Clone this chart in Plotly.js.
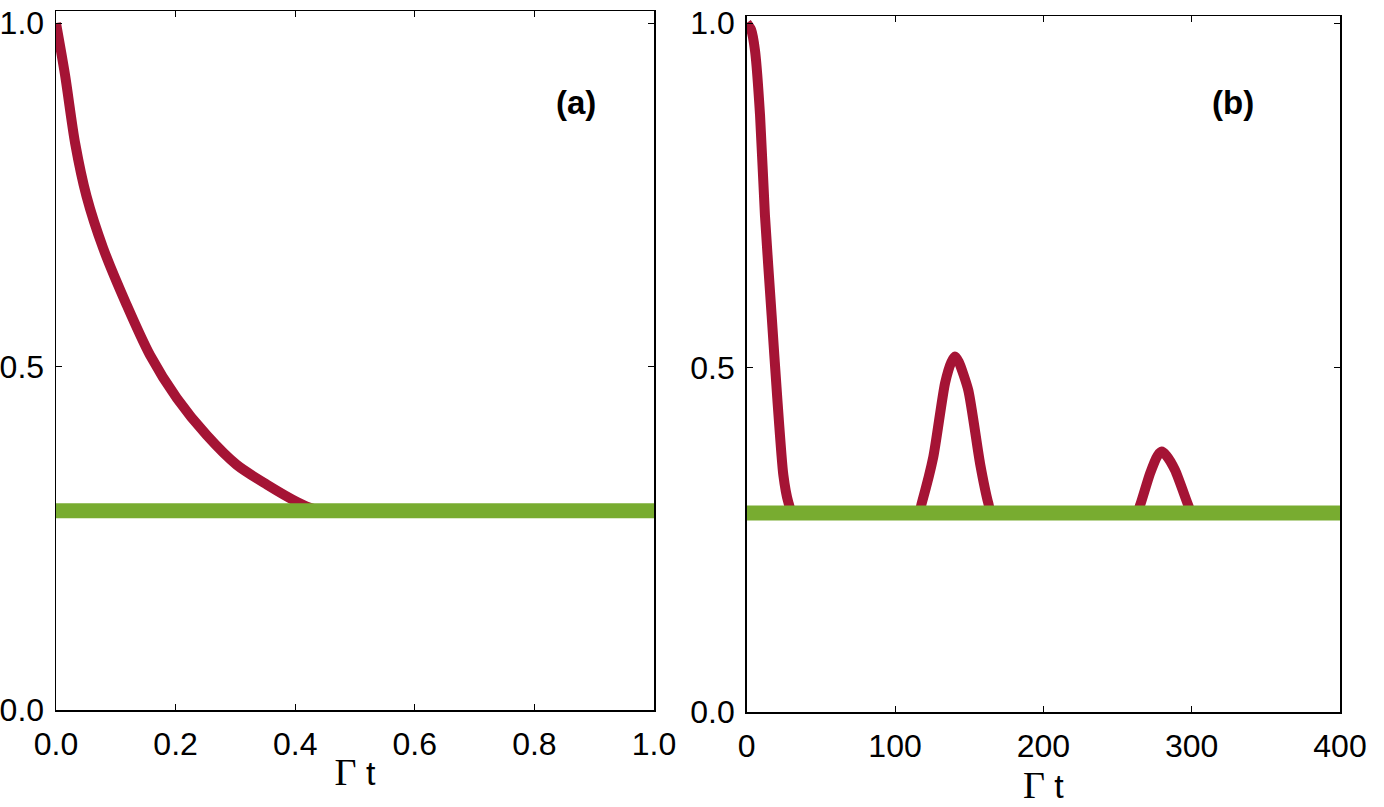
<!DOCTYPE html>
<html>
<head>
<meta charset="utf-8">
<script src="https://cdn.plot.ly/plotly-3.0.1.min.js"></script>
<style>html,body{margin:0;padding:0;background:#fff;}</style>
</head>
<body>
<div id="chart" style="width:1384px;height:807px;"></div>
<script>
// Panel (a) data
const tA = [0, 0.015, 0.032, 0.051, 0.079, 0.118, 0.157, 0.202, 0.252, 0.302, 0.353, 0.403, 0.43, 0.45, 1.0];
const redA = [1.0, 0.925, 0.825, 0.748, 0.672, 0.590, 0.517, 0.454, 0.400, 0.357, 0.328, 0.303, 0.293, 0.29, 0.29];
const greenTA = [0, 1.0];
const greenA = [0.29, 0.29];

// Panel (b) data
const tB = [0, 3, 5.6, 9, 12.3, 16.8, 20.6, 24.7, 28, 31, 60, 100, 116, 118, 125.8, 133.7, 138, 140.4, 143, 149.4, 157.3, 162.9, 165, 200, 250, 263, 265.2, 271.9, 277, 279.8, 283, 288.8, 297.7, 300, 350, 400];
const redB = [1.0, 0.99, 0.96, 0.866, 0.721, 0.576, 0.456, 0.344, 0.305, 0.289, 0.289, 0.289, 0.289, 0.303, 0.370, 0.477, 0.508, 0.516, 0.508, 0.467, 0.361, 0.303, 0.289, 0.289, 0.289, 0.289, 0.300, 0.346, 0.372, 0.378, 0.372, 0.351, 0.300, 0.289, 0.289, 0.289];
const greenTB = [0, 400];
const greenB = [0.289, 0.289];

const xTicksA = [0, 0.2, 0.4, 0.6, 0.8, 1.0];
const xTickTextA = ['0.0', '0.2', '0.4', '0.6', '0.8', '1.0'];
const xTicksB = [0, 100, 200, 300, 400];
const xTickTextB = ['0', '100', '200', '300', '400'];
const yTicks = [0, 0.5, 1.0];
const yTickText = ['0.0', '0.5', '1.0'];

const RED = '#a51435';
const GREEN = '#78ac30';
const W = 1384, H = 807;

const traces = [
  {x: tA, y: redA, xaxis: 'x', yaxis: 'y', mode: 'lines', line: {color: RED, width: 10, shape: 'spline', smoothing: 0.8}, hoverinfo: 'skip'},
  {x: greenTA, y: greenA, xaxis: 'x', yaxis: 'y', mode: 'lines', line: {color: GREEN, width: 15}, hoverinfo: 'skip'},
  {x: tB, y: redB, xaxis: 'x2', yaxis: 'y2', mode: 'lines', line: {color: RED, width: 10, shape: 'spline', smoothing: 0.6}, hoverinfo: 'skip'},
  {x: greenTB, y: greenB, xaxis: 'x2', yaxis: 'y2', mode: 'lines', line: {color: GREEN, width: 15}, hoverinfo: 'skip'}
];

const tickFont = {family: 'Liberation Sans, Arial, sans-serif', size: 32, color: '#000'};
const yTickFont = {family: 'Liberation Sans, Arial, sans-serif', size: 32, color: '#000'};
const titleText = '<span style="font-family:Liberation Serif;font-size:38px">Γ</span> t';
const titleFont = {family: 'Liberation Sans, Arial, sans-serif', size: 34, color: '#000'};

function xax(domain, range, vals, text) {
  return {
    domain: domain, range: range, tickmode: 'array', tickvals: vals, ticktext: text,
    ticks: 'inside', ticklen: 6, tickcolor: '#000', tickwidth: 1,
    showline: true, linecolor: '#000', linewidth: 1.5, mirror: 'ticks',
    showgrid: false, zeroline: false, tickfont: tickFont, automargin: false,
    ticklabelstandoff: 5,
    title: {text: titleText, font: titleFont, standoff: 0}
  };
}
function yax(domain, range, anchor) {
  return {
    domain: domain, range: range, tickmode: 'array', tickvals: yTicks, ticktext: yTickText,
    ticks: 'inside', ticklen: 6, tickcolor: '#000', tickwidth: 1,
    showline: true, linecolor: '#000', linewidth: 1.5, mirror: 'ticks',
    showgrid: false, zeroline: false, tickfont: yTickFont, automargin: false,
    ticklabelstandoff: 4, anchor: anchor
  };
}

const layout = {
  width: W, height: H,
  margin: {l: 0, r: 0, t: 0, b: 0},
  paper_bgcolor: '#fff', plot_bgcolor: '#fff',
  showlegend: false,
  xaxis: Object.assign(xax([56 / W, 654 / W], [0, 1], xTicksA, xTickTextA), {anchor: 'y'}),
  yaxis: yax([(H - 710) / H, (H - 11) / H], [0, 1.0175], 'x'),
  xaxis2: Object.assign(xax([746.7 / W, 1340 / W], [0, 400], xTicksB, xTickTextB), {anchor: 'y2'}),
  yaxis2: yax([(H - 712) / H, (H - 16) / H], [0, 1.0102], 'x2'),
  annotations: [
    {xref: 'x', yref: 'y', x: 0.869, y: 0.884, text: '<b>(a)</b>', showarrow: false,
     font: {family: 'Liberation Sans, Arial, sans-serif', size: 33, color: '#000'}},
    {xref: 'x2', yref: 'y2', x: 328, y: 0.884, text: '<b>(b)</b>', showarrow: false,
     font: {family: 'Liberation Sans, Arial, sans-serif', size: 33, color: '#000'}}
  ]
};

Plotly.newPlot('chart', traces, layout, {displayModeBar: false, staticPlot: true});
</script>
</body>
</html>
